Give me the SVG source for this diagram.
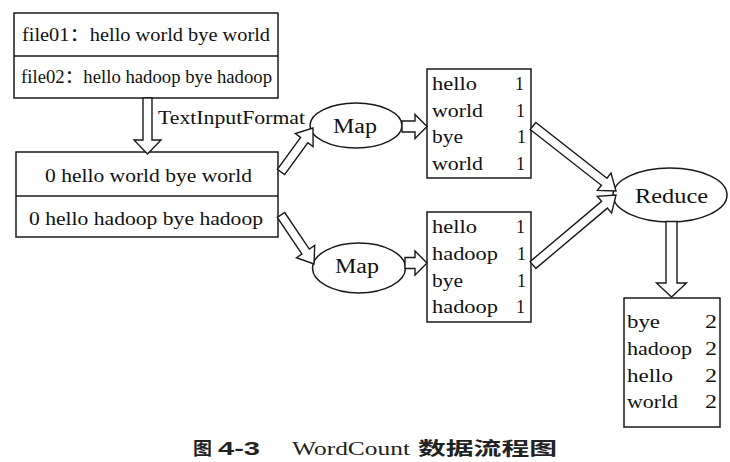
<svg xmlns="http://www.w3.org/2000/svg" width="730" height="462" viewBox="0 0 730 462">
<style>
.box{fill:#fff;stroke:#1a1a1a;stroke-width:1.5}
.ell{fill:#fff;stroke:#1a1a1a;stroke-width:1.5}
.arr{fill:#fff;stroke:#1a1a1a;stroke-width:1.4;stroke-linejoin:miter}
.t{font-family:"Liberation Serif","Noto Sans CJK SC",serif;font-size:18px;fill:#111}
.m{font-family:"Liberation Serif",serif;font-size:20px;fill:#111}
.cj{font-family:"Noto Sans CJK SC",sans-serif;font-size:18px;font-weight:bold;fill:#222}
.cs{font-family:"Liberation Sans",sans-serif;font-size:19px;font-weight:bold;fill:#222}
.cw{font-family:"Liberation Serif",serif;font-size:19px;fill:#222}
</style>
<rect width="730" height="462" fill="#fff"/>
<g id="files">
<rect class="box" x="14" y="13" width="264" height="85"/>
<line class="box" x1="14" y1="56" x2="278" y2="56"/>
<text class="t" x="22" y="41" textLength="248" lengthAdjust="spacingAndGlyphs">file01：hello world bye world</text>
<text class="t" x="21" y="83" textLength="251" lengthAdjust="spacingAndGlyphs">file02：hello hadoop bye hadoop</text>
</g>
<g id="inputs">
<rect class="box" x="16" y="152" width="262" height="85"/>
<line class="box" x1="16" y1="196" x2="278" y2="196"/>
<text class="t" x="45" y="182" textLength="207" lengthAdjust="spacingAndGlyphs">0 hello world bye world</text>
<text class="t" x="29" y="225" textLength="234" lengthAdjust="spacingAndGlyphs">0 hello hadoop bye hadoop</text>
</g>
<g id="label-textinputformat">
<text class="t" x="158" y="124" textLength="147" lengthAdjust="spacingAndGlyphs">TextInputFormat</text>
</g>
<g id="map1">
<ellipse class="ell" cx="356" cy="125.5" rx="46" ry="22.5"/>
<text class="m" x="333" y="133" textLength="44" lengthAdjust="spacingAndGlyphs">Map</text>
</g>
<g id="map2">
<ellipse class="ell" cx="359" cy="268" rx="46.5" ry="25"/>
<text class="m" x="335" y="273" textLength="44" lengthAdjust="spacingAndGlyphs">Map</text>
</g>
<g id="out1">
<rect class="box" x="427" y="69" width="104" height="109"/>
<text class="t" x="432" y="90" textLength="45" lengthAdjust="spacingAndGlyphs">hello</text>
<text class="t" x="432" y="117" textLength="51" lengthAdjust="spacingAndGlyphs">world</text>
<text class="t" x="432" y="143" textLength="31" lengthAdjust="spacingAndGlyphs">bye</text>
<text class="t" x="432" y="170" textLength="51" lengthAdjust="spacingAndGlyphs">world</text>
<text class="t" x="515" y="90">1</text>
<text class="t" x="516" y="117">1</text>
<text class="t" x="517" y="143">1</text>
<text class="t" x="516" y="170">1</text>
</g>
<g id="out2">
<rect class="box" x="427" y="212" width="104" height="110"/>
<text class="t" x="432" y="233" textLength="45" lengthAdjust="spacingAndGlyphs">hello</text>
<text class="t" x="432" y="260" textLength="66" lengthAdjust="spacingAndGlyphs">hadoop</text>
<text class="t" x="432" y="287" textLength="31" lengthAdjust="spacingAndGlyphs">bye</text>
<text class="t" x="432" y="313" textLength="66" lengthAdjust="spacingAndGlyphs">hadoop</text>
<text class="t" x="516" y="233">1</text>
<text class="t" x="517" y="260">1</text>
<text class="t" x="517" y="287">1</text>
<text class="t" x="516" y="313">1</text>
</g>
<g id="reduce">
<ellipse class="ell" cx="670" cy="195" rx="57" ry="27"/>
<text class="m" x="635" y="203" textLength="73" lengthAdjust="spacingAndGlyphs">Reduce</text>
</g>
<g id="result">
<rect class="box" x="624" y="298" width="96" height="129"/>
<text class="t" x="627" y="328" textLength="33" lengthAdjust="spacingAndGlyphs">bye</text>
<text class="t" x="627" y="355" textLength="65" lengthAdjust="spacingAndGlyphs">hadoop</text>
<text class="t" x="627" y="382" textLength="46" lengthAdjust="spacingAndGlyphs">hello</text>
<text class="t" x="627" y="408" textLength="51" lengthAdjust="spacingAndGlyphs">world</text>
<text class="t" x="705" y="328" textLength="12" lengthAdjust="spacingAndGlyphs">2</text>
<text class="t" x="705" y="355" textLength="12" lengthAdjust="spacingAndGlyphs">2</text>
<text class="t" x="705" y="382" textLength="12" lengthAdjust="spacingAndGlyphs">2</text>
<text class="t" x="705" y="408" textLength="12" lengthAdjust="spacingAndGlyphs">2</text>
</g>
<g id="connectors">
<polygon class="arr" points="152,98 152,140 161,140 147.5,154 134,140 143,140 143,98"/>
<polygon class="arr" points="284.6,174.6 307.8,142.8 313.1,146.6 313,128 295.3,133.6 300.6,137.5 277.4,169.4"/>
<polygon class="arr" points="284.7,212.5 309.3,249.1 314.7,245.4 314,264 296.5,257.7 301.9,254.1 277.3,217.5"/>
<polygon class="arr" points="402,121 415,121 415,114.5 427,126.5 415,138.5 415,132 402,132"/>
<polygon class="arr" points="405,257.5 415,257.5 415,251 427,263 415,275 415,268.5 405,268.5"/>
<polygon class="arr" points="530.2,129.5 601.4,185.3 597.4,190.4 616,191 611,173.1 607,178.2 535.8,122.5"/>
<polygon class="arr" points="535.9,268.4 607.4,208.1 611.6,213.1 616,195 597.4,196.3 601.6,201.3 530.1,261.6"/>
<polygon class="arr" points="677,221.5 677,283 686.5,283 671.5,297 656.5,283 666,283 666,221.5"/>
</g>
<g id="caption">
<text class="cj" x="193" y="455" textLength="19" lengthAdjust="spacingAndGlyphs">图</text>
<text class="cs" x="218" y="455" textLength="42" lengthAdjust="spacingAndGlyphs">4-3</text>
<text class="cw" x="292" y="455" textLength="118" lengthAdjust="spacingAndGlyphs">WordCount</text>
<text class="cj" x="418" y="455" textLength="139" lengthAdjust="spacingAndGlyphs">数据流程图</text>
</g>
</svg>
